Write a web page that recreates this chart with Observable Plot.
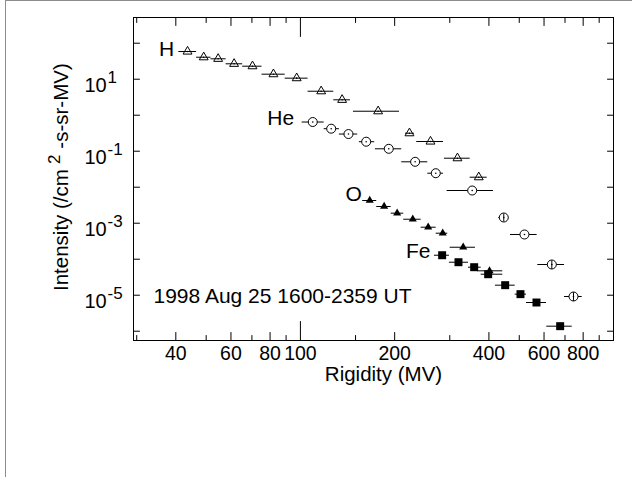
<!DOCTYPE html>
<html><head><meta charset="utf-8">
<script src="https://cdn.jsdelivr.net/npm/d3@7"></script>
<script src="https://cdn.jsdelivr.net/npm/@observablehq/plot@0.6"></script>
<style>
html,body{margin:0;padding:0;background:#fff;}
#wrap{position:absolute;left:5px;top:0;width:626px;height:476px;border-left:1px solid #8c8c8c;border-top:1px solid #8c8c8c;}
svg{display:block;}
</style></head><body><div id="wrap"></div>
<script>
// ---- Data (rigidity MV, intensity) ----
const Hx  = [43.6, 49.1, 54.6, 61.4, 70.3, 82.0, 97.3, 116.5, 135.9, 177.1, 223.0, 260.3, 317.4, 371.2];
const Hlo = [40.9, 46.6, 51.8, 57.9, 65.4, 75.4, 89.4, 105.8, 127.8, 147.7, 216.6, 235.3, 288.4, 348.5];
const Hhi = [46.6, 51.8, 57.9, 65.4, 75.4, 89.4, 105.8, 127.8, 144.5, 207.2, 231.3, 286.3, 348.5, 395.0];
const Hy  = [58.8, 40.8, 36.9, 26.8, 23.0, 13.8, 10.7, 4.64, 2.68, 1.29, 0.316, 0.186, 0.0639, 0.01896];

const Hex  = [109.5, 125.4, 142.4, 162.2, 191.5, 232.5, 270.6, 353.7, 446.2, 519.5, 635.3, 745.1];
const Helo = [101.3, 119.1, 133.2, 154.3, 173.6, 210.7, 255.2, 294.2, 430.1, 468.8, 573.0, 697.6];
const Hehi = [119.1, 133.2, 152.4, 172.7, 210.7, 255.2, 286.3, 413.6, 462.9, 570.4, 697.6, 794.3];
const Hey  = [0.647, 0.422, 0.300, 0.1836, 0.1166, 0.0508, 0.02448, 0.0081, 0.00144, 4.86e-4, 7.13e-5, 9.2e-6];
const HeYerr = [0, 0, 0, 0, 0, 0, 0, 0, 0.25, 0, 0.27, 0.27];

const Ox  = [166.5, 185.1, 203.7, 228.5, 255.9, 284.8, 331.1, 401.8];
const Olo = [158.1, 175.3, 194.9, 213.8, 243.0, 271.4, 300.8, 368.6];
const Ohi = [175.3, 194.9, 213.8, 243.0, 271.4, 295.5, 362.4, 443.0];
const Oy  = [4.27e-3, 2.91e-3, 1.90e-3, 1.29e-3, 7.74e-4, 5.28e-4, 2.15e-4, 4.76e-5];

const Fex  = [283.6, 319.8, 358.9, 397.8, 450.8, 504.5, 567.5, 675.5];
const Felo = [268.0, 299.2, 344.2, 377.9, 419.8, 485.3, 527.3, 612.2];
const Fehi = [299.2, 344.2, 377.9, 443.0, 485.3, 527.3, 610.9, 738.0];
const Fey  = [1.29e-4, 8.25e-5, 6.0e-5, 3.83e-5, 1.90e-5, 1.07e-5, 6.27e-6, 1.38e-6];

const seriesNames = ["H", "He", "O", "Fe"];
const dateText = "1998 Aug 25 1600-2359 UT";
const xLabel = "Rigidity (MV)";
const yLabel = "Intensity (/cm2 -s-sr-MV)";

const xTicksLabeled = [40, 60, 80, 200, 400, 600, 800];
const xTickLabels = [40, 60, 80, 100, 200, 400, 600, 800];
const xTickMajor = [100];
const xTicksMinor = [30, 50, 70, 90, 150, 300, 500, 700, 900];
const yTickExps = [-6, -5, -4, -3, -2, -1, 0, 1, 2];
const yLabelExps = [-5, -3, -1, 1];

// ---- Build tables ----
const mk = (x, lo, hi, y) => x.map((v, i) => ({x: v, lo: lo[i], hi: hi[i], y: y[i]}));
const H = mk(Hx, Hlo, Hhi, Hy);
const He = mk(Hex, Helo, Hehi, Hey).map((d, i) => ({...d, e: HeYerr[i]}));
const O = mk(Ox, Olo, Ohi, Oy);
const Fe = mk(Fex, Felo, Fehi, Fey);
const HeErr = He.filter(d => d.e > 0);

const tickShape = {draw(ctx, l) { ctx.moveTo(0, 0); ctx.lineTo(0, -l); }};
const tk = (data, opts) => Plot.vector(data, {anchor: "start", shape: tickShape, stroke: "black", strokeWidth: 1, ...opts});
const font = 19.5;

const chart = Plot.plot({
  width: 626, height: 476,
  marginLeft: 127, marginRight: 19, marginTop: 16, marginBottom: 137,
  style: {fontFamily: "'Liberation Sans', Arial, sans-serif", background: "white", color: "black"},
  x: {type: "log", domain: [29.3, 1000], axis: null},
  y: {type: "log", domain: [5.52e-7, 518], axis: null},
  marks: [
    Plot.frame({stroke: "black", strokeWidth: 1}),
    // ticks bottom/top
    tk(xTicksLabeled, {x: d => d, frameAnchor: "bottom", rotate: 0, length: 8}),
    tk(xTickMajor, {x: d => d, frameAnchor: "bottom", rotate: 0, length: 19}),
    tk(xTicksMinor, {x: d => d, frameAnchor: "bottom", rotate: 0, length: 5}),
    tk(xTicksLabeled, {x: d => d, frameAnchor: "top", rotate: 180, length: 8}),
    tk(xTickMajor, {x: d => d, frameAnchor: "top", rotate: 180, length: 19}),
    tk(xTicksMinor, {x: d => d, frameAnchor: "top", rotate: 180, length: 5}),
    tk(yTickExps, {y: d => 10 ** d, frameAnchor: "left", rotate: 90, length: 6}),
    tk(yTickExps, {y: d => 10 ** d, frameAnchor: "right", rotate: -90, length: 6}),
    // tick labels
    Plot.text(xTickLabels, {x: d => d, text: d => String(d), frameAnchor: "bottom", dy: 19, fontSize: font}),
    Plot.text(yLabelExps, {y: d => 10 ** d, text: () => "10", frameAnchor: "left", textAnchor: "start", dx: -49, dy: 6, fontSize: 20}),
    Plot.text(yLabelExps, {y: d => 10 ** d, text: d => String(d), frameAnchor: "left", textAnchor: "start", dx: -26, dy: -2, fontSize: 17}),
    // axis labels
    Plot.text([xLabel], {frameAnchor: "bottom", dx: 10, dy: 40, fontSize: 20.5}),
    Plot.text([yLabel], {frameAnchor: "left", rotate: -90, textAnchor: "start", dx: -72, dy: 112, fontSize: 20.5}),
    // horizontal bars
    Plot.ruleY(H, {y: "y", x1: "lo", x2: "hi", stroke: "black"}),
    Plot.ruleY(He, {y: "y", x1: "lo", x2: "hi", stroke: "black"}),
    Plot.ruleY(O, {y: "y", x1: "lo", x2: "hi", stroke: "black"}),
    Plot.ruleY(Fe, {y: "y", x1: "lo", x2: "hi", stroke: "black"}),
    // markers
    Plot.dot(H, {x: "x", y: "y", symbol: "triangle", r: 3.3, stroke: "black", fill: "none", strokeWidth: 1}),
    Plot.dot(H, {x: "x", y: "y", r: 0.8, fill: "black"}),
    Plot.dot(He, {x: "x", y: "y", symbol: "circle", r: 4.5, stroke: "black", fill: "white", strokeWidth: 1}),
    Plot.dot(He, {x: "x", y: "y", r: 0.8, fill: "black"}),
    Plot.ruleX(HeErr, {x: "x", y1: d => d.y * (1 - d.e), y2: d => d.y * (1 + d.e), stroke: "black"}),
    Plot.dot(O, {x: "x", y: "y", symbol: "triangle", r: 3, fill: "black"}),
    Plot.dot(Fe, {x: "x", y: "y", symbol: "square", r: 4.5, fill: "black"}),
    // series labels anchored at first points
    Plot.text([H[0]], {x: "x", y: "y", text: () => seriesNames[0], dx: -21, dy: -2.5, fontSize: 21}),
    Plot.text([He[0]], {x: "x", y: "y", text: () => seriesNames[1], dx: -32, dy: -4, fontSize: 21}),
    Plot.text([O[0]], {x: "x", y: "y", text: () => seriesNames[2], dx: -16, dy: -6, fontSize: 21}),
    Plot.text([Fe[0]], {x: "x", y: "y", text: () => seriesNames[3], dx: -24, dy: -3.5, fontSize: 21}),
    Plot.text([dateText], {frameAnchor: "bottom-left", textAnchor: "start", dx: 20, dy: -38, fontSize: 21})
  ]
});

// superscript the "2" in the y-axis label
d3.select(chart).selectAll("text").each(function() {
  if (this.textContent === yLabel) {
    const t = d3.select(this);
    t.text(null);
    t.append("tspan").text("Intensity (/cm");
    t.append("tspan").attr("dx", 5).attr("dy", -8).attr("font-size", 17).text("2");
    t.append("tspan").attr("dx", 6).attr("dy", 8).text("-s-sr-MV)");
  }
});

document.getElementById("wrap").appendChild(chart);
</script>
</body></html>
